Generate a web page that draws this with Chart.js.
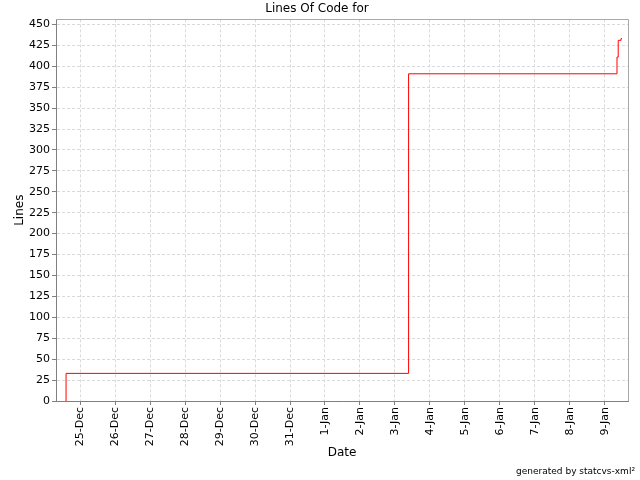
<!DOCTYPE html>
<html>
<head>
<meta charset="utf-8">
<script src="https://cdn.jsdelivr.net/npm/chart.js@4/dist/chart.umd.min.js"></script>
<style>
html,body{margin:0;padding:0;background:#fff;}
#wrap{position:relative;width:640px;height:480px;}
#foot{position:absolute;right:5px;top:466px;font:9px 'DejaVu Sans',sans-serif;color:#000;white-space:nowrap;}
</style>
</head>
<body>
<div id="wrap"><canvas id="c" width="640" height="480"></canvas><div id="foot">generated by statcvs-xml²</div></div>
<script>
// Data
const commitTimes = [
  "2004-12-24T14:24:00Z",
  "2004-12-24T14:24:00Z",
  "2005-01-03T09:20:00Z",
  "2005-01-09T08:17:00Z",
  "2005-01-09T09:07:00Z",
  "2005-01-09T11:00:00Z",
  "2005-01-09T11:45:00Z"
];
const linesOfCode = [0, 33, 391, 411, 431, 433, 433];
const dateLabels = ["25-Dec","26-Dec","27-Dec","28-Dec","29-Dec","30-Dec","31-Dec",
  "1-Jan","2-Jan","3-Jan","4-Jan","5-Jan","6-Jan","7-Jan","8-Jan","9-Jan"];
const yTicks = [0,25,50,75,100,125,150,175,200,225,250,275,300,325,350,375,400,425,450];

const origin = Date.parse("2004-12-25T00:00:00Z");
const DAY = 86400000;
const toDays = s => (Date.parse(s) - origin) / DAY;
const axisStart = "2004-12-24T07:30:00Z";
const axisEnd = "2005-01-09T15:50:00Z";

const points = commitTimes.map((t, i) => ({ x: toDays(t), y: linesOfCode[i] }));

const FONT = "'DejaVu Sans', sans-serif";

const outline = {
  id: 'outline',
  beforeDatasetsDraw(chart) {
    const a = chart.chartArea, ctx = chart.ctx;
    ctx.save();
    ctx.strokeStyle = '#a8a8a8';
    ctx.lineWidth = 1;
    ctx.beginPath();
    ctx.moveTo(Math.round(a.left), Math.round(a.top) + 0.5);
    ctx.lineTo(Math.round(a.right) + 0.5, Math.round(a.top) + 0.5);
    ctx.lineTo(Math.round(a.right) + 0.5, Math.round(a.bottom));
    ctx.stroke();
    ctx.restore();
  }
};

const gridOpts = {
  color: '#dadada',
  tickLength: 4,
  tickColor: '#808080',
  tickBorderDash: []
};

new Chart(document.getElementById('c'), {
  type: 'line',
  data: {
    datasets: [{
      data: points,
      borderColor: '#ff0000',
      borderWidth: 1,
      pointRadius: 0,
      stepped: 'before',
      fill: false
    }]
  },
  options: {
    responsive: false,
    animation: false,
    layout: { padding: { left: 6, right: 12, top: 0, bottom: 20 } },
    plugins: {
      legend: { display: false },
      tooltip: { enabled: false },
      title: {
        display: true,
        text: 'Lines Of Code for',
        color: '#000',
        font: { family: FONT, size: 12, weight: 'normal' },
        padding: { top: 2, bottom: 3 }
      }
    },
    scales: {
      x: {
        type: 'linear',
        min: toDays(axisStart),
        max: toDays(axisEnd),
        afterBuildTicks(scale) {
          scale.ticks = dateLabels.map((l, i) => ({ value: i }));
        },
        afterFit(scale) { scale.height = 59; },
        ticks: {
          autoSkip: false,
          minRotation: 90,
          maxRotation: 90,
          color: '#000',
          padding: 2,
          font: { family: FONT, size: 11 },
          callback: (v, i) => dateLabels[i]
        },
        grid: gridOpts,
        border: { display: true, color: '#808080', dash: [3, 2] },
        title: {
          display: true,
          text: 'Date',
          color: '#000',
          font: { family: FONT, size: 12 },
          padding: { top: 0, bottom: 0 }
        }
      },
      y: {
        type: 'linear',
        min: 0,
        max: 456,
        afterBuildTicks(scale) {
          scale.ticks = yTicks.map(v => ({ value: v }));
        },
        afterFit(scale) { scale.width = 50; },
        ticks: {
          color: '#000',
          padding: 2,
          font: { family: FONT, size: 11 },
          callback: v => String(v)
        },
        grid: gridOpts,
        border: { display: true, color: '#808080', dash: [3, 2] },
        title: {
          display: true,
          text: 'Lines',
          color: '#000',
          font: { family: FONT, size: 12 },
          padding: { top: 7, bottom: 2 }
        }
      }
    }
  },
  plugins: [outline]
});
</script>
</body>
</html>
